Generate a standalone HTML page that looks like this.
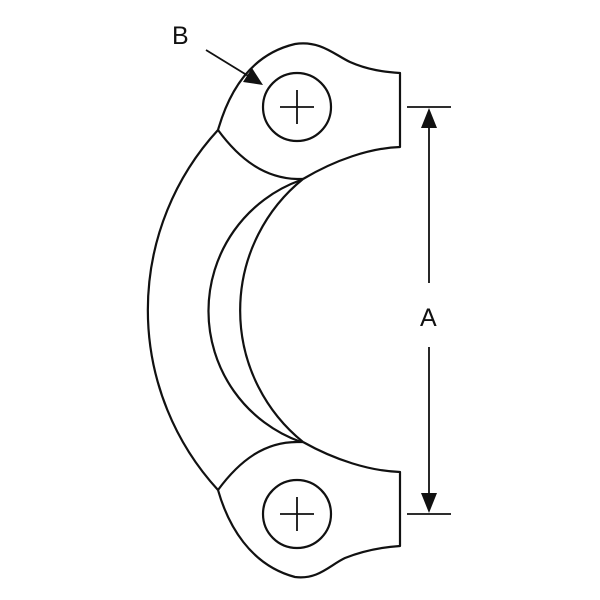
<!DOCTYPE html>
<html><head><style>body{margin:0;background:#fff}svg{display:block}</style></head>
<body>
<svg width="600" height="600" viewBox="0 0 600 600" xmlns="http://www.w3.org/2000/svg">
<g fill="none" stroke="#111" stroke-width="2.2" stroke-linejoin="round">
<path d="M218,130 C228,95 248,55 295,44 C320,40 335,55 350,62 C368,70 385,72 400,73 L400,147 C370,148 335,160 303,179"/>
<path d="M218,130 C240,160 265,178 297,179 L303,179"/>
<path d="M218,490 C228,525 250,565 295,577 C318,580 330,565 345,558 C365,550 385,547 400,546 L400,472 C370,471 335,460 303,442"/>
<path d="M218,490 C240,460 265,442 297,442 L303,442"/>
<path d="M218,130 A266,266 0 0 0 218,490"/>
<path d="M301,180 A139,139 0 0 0 301,442"/>
<path d="M303,179 A169,169 0 0 0 303,442"/>
<circle cx="297" cy="107" r="34"/>
<circle cx="297" cy="514" r="34"/>
</g>
<g stroke="#111" stroke-width="1.8">
<line x1="280" y1="107" x2="314" y2="107"/><line x1="297" y1="90" x2="297" y2="124"/>
<line x1="280" y1="514" x2="314" y2="514"/><line x1="297" y1="497" x2="297" y2="531"/>
<line x1="407" y1="107" x2="451" y2="107"/>
<line x1="407" y1="514" x2="451" y2="514"/>
<line x1="429" y1="125" x2="429" y2="283"/>
<line x1="429" y1="347" x2="429" y2="496"/>
<line x1="206" y1="50" x2="250" y2="77"/>
</g>
<g fill="#111">
<polygon points="429,108 421,128 437,128"/>
<polygon points="429,513 421,493 437,493"/>
<polygon points="263,85 243,82 252,68"/>
</g>
<g font-family="Liberation Sans, sans-serif" font-size="25" fill="#111">
<text x="172" y="44">B</text>
<text x="420" y="326">A</text>
</g>
</svg>
</body></html>
